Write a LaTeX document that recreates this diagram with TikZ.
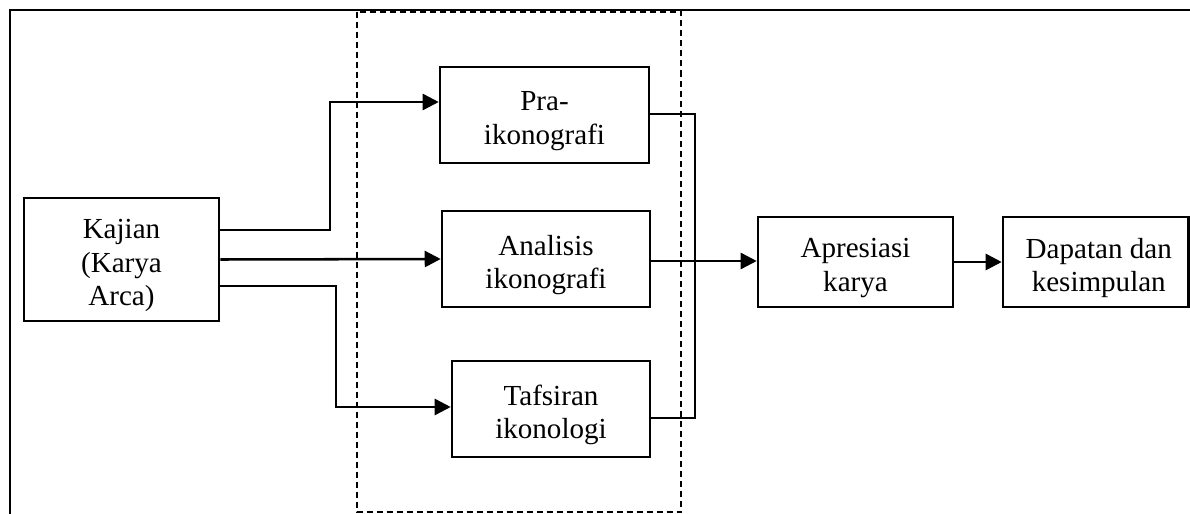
\documentclass[tikz,border=0pt]{standalone}
\usepackage{fontspec}
\setmainfont{Liberation Serif}
\usetikzlibrary{arrows.meta,calc}
\tikzset{
  box/.style={draw, line width=1.9pt, inner sep=0pt},
  txt/.style={align=center, inner sep=0pt, yshift=-4.5pt,
    font=\fontsize{21.8}{25.2}\selectfont},
  arr/.style={line width=1.9pt, -{Triangle[length=12pt,width=12pt]}},
  conn/.style={line width=1.9pt},
  group/.style={line width=1.6pt, dash pattern=on 4.5pt off 3pt},
}
\begin{document}
\begin{tikzpicture}[x=0.75pt,y=-0.75pt]
\useasboundingbox (0,0) rectangle (1190,514);
% outer frame (cropped)
\draw[conn] (10,514) -- (10,10) -- (1190,10);
% dashed grouping box
\draw[group] (357,11.5) rectangle (681,512);
% boxes
\node[box, minimum width=195*0.75pt, minimum height=123*0.75pt] (kaj) at (121.5,259.5) {};
\node[box, minimum width=209*0.75pt, minimum height=96*0.75pt] (pra) at (544.5,115) {};
\node[box, minimum width=208*0.75pt, minimum height=96*0.75pt] (ana) at (546,259) {};
\node[box, minimum width=198*0.75pt, minimum height=96*0.75pt] (taf) at (551,409) {};
\node[box, minimum width=195*0.75pt, minimum height=90*0.75pt] (apr) at (855.5,262) {};
\node[box, minimum width=185.5*0.75pt, minimum height=90*0.75pt] (dap) at (1095.75,262) {};
% texts
\node[txt] (kajt) at (kaj) {Kajian\\(Karya\\Arca)};
\node[txt] (prat) at (pra) {Pra-\\ikonografi};
\node[txt] (anat) at (ana) {Analisis\\ikonografi};
\node[txt] (taft) at (taf) {Tafsiran\\ikonologi};
\node[txt] (aprt) at (apr) {Apresiasi\\karya};
\node[txt] (dapt) at ($(dap)+(3,0)$) {Dapatan dan\\kesimpulan};
% helper coordinates
\coordinate (k1) at ($(kaj.east)+(0,-29.5)$);
\coordinate (k3) at ($(kaj.east)+(0,26.5)$);
\coordinate (b1) at (330,102);
\coordinate (b3) at (336,407);
\coordinate (p1) at ($(pra.west)+(0,-13)$);
\coordinate (t1) at ($(taf.west)+(0,-2)$);
\coordinate (pe) at ($(pra.east)+(0,-1)$);
\coordinate (te) at ($(taf.east)+(0,9)$);
\coordinate (ae) at ($(ana.east)+(0,2)$);
\coordinate (c1) at (695,114);
\coordinate (c2) at (695,418);
% connectors
\draw[arr] (k1) -| (b1) -- (p1);
\draw[arr] (kaj.east) -- (ana.west);
\draw[arr] (k3) -| (b3) -- (t1);
\draw[conn] (pe) -- (c1) -- (c2) -- (te);
\draw[arr] (ae) -- (ae -| apr.west);
\draw[arr] (apr.east) -- (dap.west);
\end{tikzpicture}
\end{document}
